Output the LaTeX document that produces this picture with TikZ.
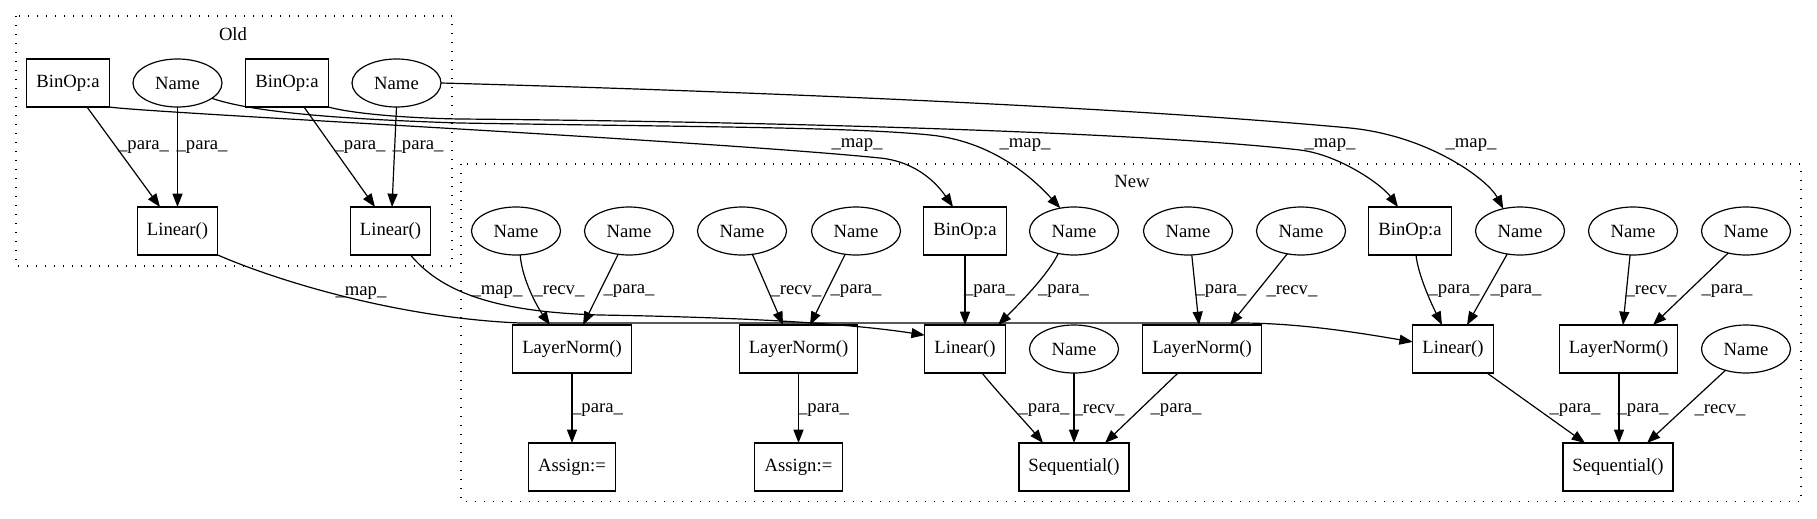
\documentclass[tikz,border=0pt]{standalone}
\usepackage{fontspec}
\setmainfont{Liberation Serif}
\usetikzlibrary{arrows.meta,shapes.geometric,calc}
\begin{document}
\begin{tikzpicture}[x=0.75pt,y=-0.75pt,
  font=\fontsize{14}{16}\selectfont, line width=0.9pt,
  box/.style={draw, rectangle, minimum height=36pt, inner sep=0pt, outer sep=0pt},
  sbin/.style={box, minimum width=61.9pt},
  slin/.style={box, minimum width=60.4pt},
  sln/.style={box, minimum width=88.9pt},
  sas/.style={box, minimum width=65.6pt},
  sseq/.style={box, minimum width=82.5pt},
  nm/.style={draw, ellipse, minimum width=66.75pt, minimum height=36pt, inner sep=0pt, outer sep=0pt},
  lab/.style={inner sep=0pt},
  arr/.style={-{Triangle[length=10pt,width=7.5pt]}},
  cluster/.style={draw, line width=0.9pt, dash pattern=on 1pt off 5.75pt}
]
\useasboundingbox (0,0) rectangle (1817,518);

% clusters
\draw[cluster] (16,16) rectangle (452,266);
\node[lab] (oldlbl) at (233,34) {Old};
\draw[cluster] (461,164) rectangle (1801,501.5);
\node[lab] (newlbl) at (1132,181) {New};

% Old nodes
\node[sbin] (ob1) at (68,83) {BinOp:a};
\node[nm] (on1) at (177.5,83) {Name};
\node[sbin] (ob2) at (287,83) {BinOp:a};
\node[nm] (on2) at (396.5,83) {Name};
\node[slin] (ol1) at (177.5,231) {Linear()};
\node[slin] (ol2) at (390.5,231) {Linear()};

% New row 1
\node[nm] (nA) at (516,231) {Name};
\node[nm] (nB) at (629,231) {Name};
\node[nm] (nC) at (742,231) {Name};
\node[nm] (nD) at (856,231) {Name};
\node[sbin] (nb1) at (965,231) {BinOp:a};
\node[nm] (nE) at (1074,231) {Name};
\node[nm] (nK) at (1188,231) {Name};
\node[nm] (nL) at (1301,231) {Name};
\node[sbin] (nb2) at (1410,231) {BinOp:a};
\node[nm] (nG) at (1520,231) {Name};
\node[nm] (nH) at (1633,231) {Name};
\node[nm] (nI) at (1746,231) {Name};

% New row 2
\node[sln] (ln1) at (572,349) {LayerNorm()};
\node[sln] (ln2) at (798.5,349) {LayerNorm()};
\node[slin] (nl1) at (965,349) {Linear()};
\node[nm] (nF) at (1074,349) {Name};
\node[sln] (ln3) at (1202,349) {LayerNorm()};
\node[slin] (nl2) at (1453,349) {Linear()};
\node[sln] (ln4) at (1618.5,349) {LayerNorm()};
\node[nm] (nJ) at (1746,349) {Name};

% New row 3
\node[sas] (as1) at (572,467) {Assign:=};
\node[sas] (as2) at (798.5,467) {Assign:=};
\node[sseq] (sq1) at (1074,467) {Sequential()};
\node[sseq] (sq2) at (1618,467) {Sequential()};

% Old edges
\draw[arr] ($(ob1.south)+(19,0)$) -- ($(ol1.north)+(-17.5,0)$);
\draw[arr] (on1.south) -- (ol1.north);
\draw[arr] ($(ob2.south)+(17,0)$) -- ($(ol2.north)+(-15.5,0)$);
\draw[arr] (on2.south) -- ($(ol2.north)+(1.5,0)$);
\node[lab] (lo1) at (143.5,147) {\_para\_};
\node[lab] (lo2) at (202,147) {\_para\_};
\node[lab] (lo3) at (360,147) {\_para\_};
\node[lab] (lo4) at (418,147) {\_para\_};

% map edges (top)
\draw[arr] (ob1.south east) .. controls (150,113) and (700,140) .. (880,158)
  .. controls (920,162) and (940,188) .. ($(nb1.north)+(-12,0)$);
\draw[arr] (on1.-24) .. controls (240,108) and (300,118) .. (460,123)
  .. controls (700,127) and (850,127) .. (930,135)
  .. controls (990,141) and (1030,175) .. (nE.121.6);
\draw[arr] (ob2.south east) .. controls (350,113) and (400,118) .. (460,119)
  .. controls (800,122) and (1150,133) .. (1300,150)
  .. controls (1340,155) and (1382,185) .. ($(nb2.north)+(-12,0)$);
\draw[arr] (on2.east) .. controls (700,90) and (1100,105) .. (1350,128)
  .. controls (1430,136) and (1488,180) .. (nG.127.5);
\node[lab] (lm1) at (857,145) {\_map\_};
\node[lab] (lm2) at (1025,145) {\_map\_};
\node[lab] (lm3) at (1330,145) {\_map\_};
\node[lab] (lm4) at (1471,145) {\_map\_};

% map edges (Linear)
\draw[arr] (ol1.south east) .. controls (280,282) and (400,318) .. (520,323)
  -- (1240,323) .. controls (1300,323) and (1360,333) .. (nl2.170);
\draw[arr] ($(ol2.south)+(20,0)$) .. controls (440,290) and (490,312) .. (600,315)
  .. controls (720,317) and (840,322) .. (nl1.161);
\node[lab] (lm5) at (361,293) {\_map\_};
\node[lab] (lm6) at (497,292) {\_map\_};

% New row1 -> row2
\draw[arr] (nA.-80.5) .. controls (522,280) and (538,308) .. ($(ln1.north)+(-22,0)$);
\draw[arr] (nB.-115.3) -- ($(ln1.north)+(11,0)$);
\draw[arr] (nC.-66.8) -- ($(ln2.north)+(-15.5,0)$);
\draw[arr] (nD.-115.3) -- ($(ln2.north)+(11.5,0)$);
\draw[arr] (nb1.south) -- (nl1.north);
\draw[arr] (nE.-125.5) .. controls (1048,275) and (1018,305) .. ($(nl1.north)+(33,0)$);
\draw[arr] (nK.-81.2) -- ($(ln3.north)+(-3,0)$);
\draw[arr] (nL.-121.6) -- ($(ln3.north)+(28,0)$);
\draw[arr] ($(nb2.south)+(6,0)$) .. controls (1418,275) and (1432,305) .. ($(nl2.north)+(-11,0)$);
\draw[arr] (nG.-119.5) -- ($(nl2.north)+(14,0)$);
\draw[arr] (nH.-97.1) -- ($(ln4.north)+(4.5,0)$);
\draw[arr] (nI.-129.4) -- ($(ln4.north)+(34.5,0)$);
\node[lab] (l1) at (559,291) {\_recv\_};
\node[lab] (l2) at (629,291) {\_para\_};
\node[lab] (l3) at (796,291) {\_recv\_};
\node[lab] (l4) at (856,291) {\_para\_};
\node[lab] (l5) at (989.5,291) {\_para\_};
\node[lab] (l6) at (1063.5,291) {\_para\_};
\node[lab] (l7) at (1221,291) {\_para\_};
\node[lab] (l8) at (1292,291) {\_recv\_};
\node[lab] (l9) at (1454,291) {\_para\_};
\node[lab] (l10) at (1516,291) {\_para\_};
\node[lab] (l11) at (1651,291) {\_recv\_};
\node[lab] (l12) at (1727,291) {\_para\_};

% New row2 -> row3
\draw[arr] (ln1.south) -- (as1.north);
\draw[arr] (ln2.south) -- (as2.north);
\draw[arr] ($(nl1.south)+(17,0)$) .. controls (1000,395) and (1028,425) .. ($(sq1.north)+(-31,0)$);
\draw[arr] (nF.south) -- (sq1.north);
\draw[arr] ($(ln3.south)+(-24,0)$) -- ($(sq1.north)+(31,0)$);
\draw[arr] ($(nl2.south)+(34,0)$) -- ($(sq2.north)+(-33,0)$);
\draw[arr] ($(ln4.south)+(0.5,0)$) -- ($(sq2.north)+(1,0)$);
\draw[arr] (nJ.-134.8) -- ($(sq2.north)+(29,0)$);
\node[lab] (m1) at (597.5,410) {\_para\_};
\node[lab] (m2) at (823.5,410) {\_para\_};
\node[lab] (m3) at (1044,410) {\_para\_};
\node[lab] (m4) at (1099,410) {\_recv\_};
\node[lab] (m5) at (1176,410) {\_para\_};
\node[lab] (m6) at (1575,410) {\_para\_};
\node[lab] (m7) at (1643,410) {\_para\_};
\node[lab] (m8) at (1720,410) {\_recv\_};
\end{tikzpicture}
\end{document}
